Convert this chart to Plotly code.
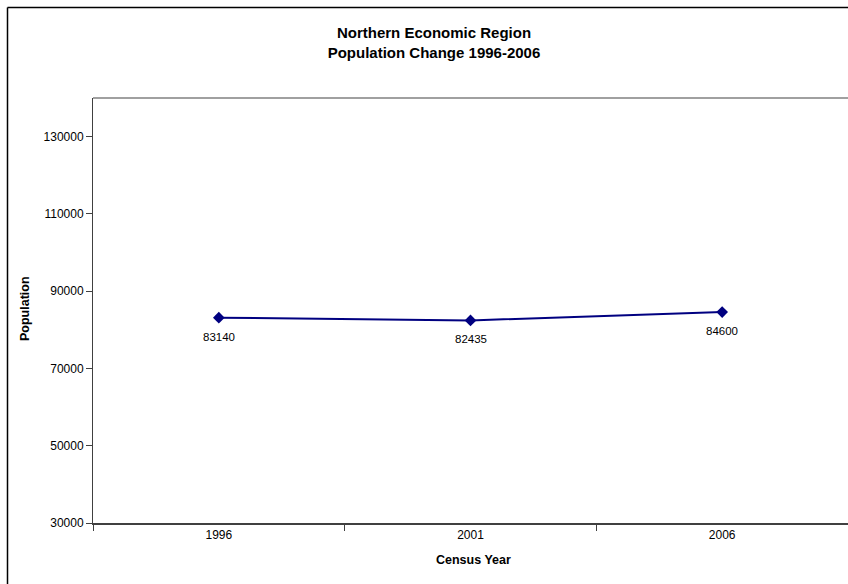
import plotly.graph_objects as go

years = ["1996", "2001", "2006"]
population = [83140, 82435, 84600]
y_ticks = [30000, 50000, 70000, 90000, 110000, 130000]
y_tick_labels = [str(v) for v in y_ticks]

FONT = "Arial, Liberation Sans, sans-serif"
W, H = 848, 584
L, R, T, B = 93, 0, 98, 61
pw, ph = W - L - R, H - T - B

def px_x(x):
    return (x - L) / pw

def px_y(y):
    return (H - B - y) / ph

fig = go.Figure()
fig.add_trace(go.Scatter(
    x=years, y=population,
    mode="lines+markers",
    line=dict(color="#000080", width=2),
    marker=dict(symbol="diamond", size=9, color="#000080"),
    cliponaxis=False,
    showlegend=False,
))

data_labels = [
    dict(x=i, y=val, xref="x", yref="y", text=str(val), showarrow=False,
         yshift=-19, xanchor="center", yanchor="middle",
         font=dict(family=FONT, size=11.5, color="#000000"))
    for i, val in enumerate(population)
]

fig.update_layout(
    width=W, height=H,
    margin=dict(l=L, r=R, t=T, b=B),
    paper_bgcolor="white", plot_bgcolor="white",
    font=dict(family=FONT, size=12, color="#000000"),
    title=dict(
        text="<b>Northern Economic Region<br>Population Change 1996-2006</b>",
        font=dict(family=FONT, size=15, color="#000000"),
        x=434 / W, xanchor="center",
        y=1 - 38 / H, yanchor="middle", yref="container",
    ),
    xaxis=dict(
        type="category", range=[-0.5, 2.5],
        showgrid=False, zeroline=False,
        showline=True, linecolor="#404040", linewidth=2,
        ticks="outside", tickson="boundaries", ticklen=6, tickcolor="#404040",
        tickfont=dict(family=FONT, size=12),
    ),
    yaxis=dict(
        range=[30000, 140000], tickvals=y_ticks, ticktext=y_tick_labels,
        showgrid=False, zeroline=False,
        showline=True, linecolor="#404040", linewidth=1,
        ticks="outside", ticklen=6, tickcolor="#404040",
        tickfont=dict(family=FONT, size=12),
    ),
    shapes=[
        dict(type="line", xref="paper", yref="paper", x0=0, x1=1, y0=1, y1=1,
             line=dict(color="#808080", width=1.5)),
        dict(type="line", xref="paper", yref="paper",
             x0=px_x(7.5), x1=px_x(W + 5), y0=px_y(7.5), y1=px_y(7.5),
             line=dict(color="#000000", width=1.5)),
        dict(type="line", xref="paper", yref="paper",
             x0=px_x(7.5), x1=px_x(7.5), y0=px_y(7.5), y1=px_y(H + 5),
             line=dict(color="#000000", width=1.5)),
    ],
    annotations=data_labels + [
        dict(text="<b>Census Year</b>", xref="paper", yref="paper",
             x=px_x(474), y=px_y(560), xanchor="center", yanchor="middle",
             showarrow=False, font=dict(family=FONT, size=12.5)),
        dict(text="<b>Population</b>", xref="paper", yref="paper",
             x=px_x(25), y=px_y(309), xanchor="center", yanchor="middle",
             textangle=-90, showarrow=False, font=dict(family=FONT, size=12.5)),
    ],
)

fig.write_html("out.html", config={"displayModeBar": False},
               post_script="document.body.style.margin='0px';")
